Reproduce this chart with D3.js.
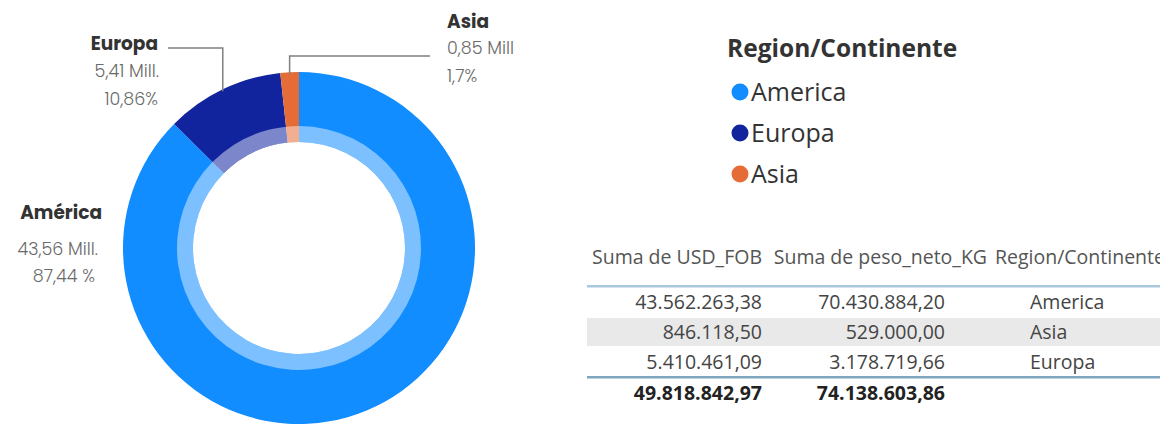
<!DOCTYPE html>
<html><head><meta charset="utf-8">
<script src="https://cdn.jsdelivr.net/npm/d3@7"></script>
<style>html,body{margin:0;padding:0;background:#fff;}svg{display:block;}</style>
</head><body>
<svg id="chart" width="1160" height="424"></svg>
<script>
// ---- data ----
const regions = ["America", "Europa", "Asia"];
const usdFob = [43562263.38, 5410461.09, 846118.50];
const pesoNeto = [70430884.20, 3178719.66, 529000.00];
const colors = ["#118DFF", "#12239E", "#E66C37"];
const labelNames = ["América", "Europa", "Asia"];
const labelValues = ["43,56 Mill.", "5,41 Mill.", "0,85 Mill"];
const labelPcts = ["87,44 %", "10,86%", "1,7%"];
const legendTitle = "Region/Continente";
const tableHeaders = ["Suma de USD_FOB", "Suma de peso_neto_KG", "Region/Continente"];
const tableOrder = ["America", "Asia", "Europa"];
const totalsLabels = ["49.818.842,97", "74.138.603,86"];

const svg = d3.select("#chart");
const cx = 299, cy = 248, R = 176, rMid = 122, rIn = 106;

const fmt = v => {
  const parts = v.toFixed(2).split(".");
  return parts[0].replace(/\B(?=(\d{3})+(?!\d))/g, ".") + "," + parts[1];
};

// ---- donut ----
const pie = d3.pie().sort(null).value(d => d.v);
const pdata = pie(regions.map((r, i) => ({r, v: usdFob[i], i})));
const g = svg.append("g").attr("transform", `translate(${cx},${cy})`);
const arcOuter = d3.arc().innerRadius(rIn).outerRadius(R);
const arcBand = d3.arc().innerRadius(rIn).outerRadius(rMid);
g.selectAll("path.slice").data(pdata).join("path")
  .attr("class", "slice").attr("d", arcOuter).attr("fill", d => colors[d.data.i]);
g.selectAll("path.band").data(pdata).join("path")
  .attr("class", "band").attr("d", arcBand).attr("fill", "#fff").attr("fill-opacity", 0.45);

// ---- labels ----
const lf = "Poppins, Inter, 'Noto Sans', sans-serif";
function labelBlock(x, ys, dxs, anchor, i) {
  const t = svg.append("g").attr("font-family", lf).attr("text-anchor", anchor);
  t.append("text").attr("x", x + dxs[0]).attr("y", ys[0]).attr("font-size", 18.5).attr("font-weight", 700)
    .attr("fill", "#333").text(labelNames[i]);
  t.append("text").attr("x", x + dxs[1]).attr("y", ys[1]).attr("font-size", 17.5).attr("font-weight", 300)
    .attr("fill", "#6a6a6a").text(labelValues[i]);
  t.append("text").attr("x", x + dxs[2]).attr("y", ys[2]).attr("font-size", 17.5).attr("font-weight", 300)
    .attr("fill", "#6a6a6a").text(labelPcts[i]);
}
labelBlock(102, [219, 255, 282], [0, -4, -7], "end", 0);
labelBlock(159, [50, 77, 105], [-1, 0, -1], "end", 1);
labelBlock(447, [28, 54, 82], [0, 0, 0], "start", 2);

// leader lines from slice mid angles
function edgePoint(d) {
  const a = (d.startAngle + d.endAngle) / 2;
  return [cx + R * Math.sin(a), cy - R * Math.cos(a)];
}
const pe = edgePoint(pdata[1]);
const pa = edgePoint(pdata[2]);
const line = d3.line();
svg.append("path").attr("d", line([[168, 48], [pe[0], 48], [pe[0], pe[1] + 2]]))
  .attr("fill", "none").attr("stroke", "#808080").attr("stroke-width", 1.5);
svg.append("path").attr("d", line([[430, 56], [pa[0], 56], [pa[0], pa[1] + 2]]))
  .attr("fill", "none").attr("stroke", "#808080").attr("stroke-width", 1.5);

// ---- legend ----
const tf = "'Open Sans', 'Noto Sans', sans-serif";
svg.append("text").attr("x", 727).attr("y", 57).attr("font-family", tf)
  .attr("font-size", 24.5).attr("font-weight", 700).attr("fill", "#333").text(legendTitle);
const leg = svg.append("g");
regions.forEach((r, i) => {
  const y = 92 + i * 41;
  leg.append("circle").attr("cx", 740).attr("cy", y).attr("r", 8.5).attr("fill", colors[i]);
  leg.append("text").attr("x", 751).attr("y", y + 9).attr("font-family", tf)
    .attr("font-size", 25).attr("fill", "#333").text(r);
});

// ---- table ----
const tb = svg.append("g").attr("font-family", tf).attr("font-size", 19.5).attr("fill", "#444");
const colRight = [762, 945];
const col3x = 1030;
tb.append("text").attr("x", colRight[0]).attr("y", 264).attr("text-anchor", "end").attr("fill", "#555").text(tableHeaders[0]);
tb.append("text").attr("x", 987).attr("y", 264).attr("text-anchor", "end").attr("fill", "#555").text(tableHeaders[1]);
tb.append("text").attr("x", 995).attr("y", 264).attr("fill", "#555").text(tableHeaders[2]);
tb.append("rect").attr("x", 587).attr("y", 285).attr("width", 573).attr("height", 2.5).attr("fill", "#a9c8dc");
const rowY = d3.scalePoint().domain(tableOrder).range([302, 362]);
tableOrder.forEach((r, k) => {
  const i = regions.indexOf(r);
  const y = rowY(r);
  if (k === 1) tb.append("rect").attr("x", 587).attr("y", y - 14).attr("width", 573).attr("height", 28).attr("fill", "#e9e9e9");
  tb.append("text").attr("x", colRight[0]).attr("y", y + 7).attr("text-anchor", "end").text(fmt(usdFob[i]));
  tb.append("text").attr("x", colRight[1]).attr("y", y + 7).attr("text-anchor", "end").text(fmt(pesoNeto[i]));
  tb.append("text").attr("x", col3x).attr("y", y + 7).text(r);
});
tb.append("rect").attr("x", 587).attr("y", 376).attr("width", 573).attr("height", 2.5).attr("fill", "#7fa6bf");
tb.append("text").attr("x", colRight[0]).attr("y", 400).attr("text-anchor", "end").attr("font-weight", 700).attr("fill", "#222").text(totalsLabels[0]);
tb.append("text").attr("x", colRight[1]).attr("y", 400).attr("text-anchor", "end").attr("font-weight", 700).attr("fill", "#222").text(totalsLabels[1]);
</script>
</body></html>
